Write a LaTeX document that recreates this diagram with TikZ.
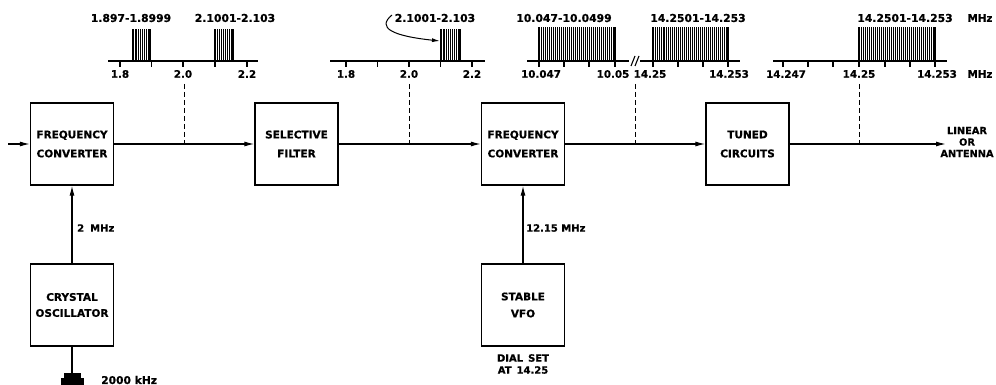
\documentclass[tikz,border=0pt]{standalone}
\usepackage{fontspec}
\setmainfont{DejaVu Sans}[BoldFeatures={FakeBold=0.6}]
\usetikzlibrary{arrows.meta}
\newcommand{\specband}[3]{%
  \pgfmathsetmacro{\bn}{int(round((#2-#1)/2.0))}%
  \foreach \i in {0,...,\bn}{\draw[line width=0.7pt] ({#1+\i*(#2-#1)/\bn},61) -- ({#1+\i*(#2-#1)/\bn},#3);}%
  \draw[line width=1.1pt] (#1,61) -- (#1,#3);
  \draw[line width=1.1pt] (#2,61) -- (#2,#3);
}
\begin{document}
\begin{tikzpicture}[x=1pt,y=-1pt,
  blk/.style={draw, line width=1.3pt, minimum width=83pt, minimum height=82pt, align=center, inner sep=0pt, font=\fontsize{10.5}{19}\selectfont\bfseries},
  sig/.style={line width=1.2pt, -{Latex[length=10pt,width=5pt]}},
  lbl/.style={inner sep=0pt, font=\fontsize{10}{11}\selectfont\bfseries},
  num/.style={inner sep=0pt, font=\fontsize{10.3}{11}\selectfont\bfseries},
  top/.style={inner sep=0pt, font=\fontsize{10.8}{11}\selectfont\bfseries},
  ax/.style={line width=1.2pt},
  dsh/.style={line width=1pt, dash pattern=on 5pt off 3pt}]
\useasboundingbox (0,0) rectangle (996,385);

% blocks
\node[blk] (fc1) at (72,144) {FREQUENCY\\CONVERTER};
\node[blk] (sf) at (296.5,144) {SELECTIVE\\FILTER};
\node[blk] (fc2) at (523,144) {FREQUENCY\\CONVERTER};
\node[blk] (tc) at (747.5,144) {TUNED\\CIRCUITS};
\node[blk, font=\fontsize{10.5}{16}\selectfont\bfseries] (co) at (72,305) {CRYSTAL\\OSCILLATOR};
\node[blk, font=\fontsize{10.5}{17}\selectfont\bfseries] (vfo) at (523,305) {STABLE\\VFO};

% crystal
\node[fill, minimum width=17pt, minimum height=5pt, inner sep=0pt] (xtal) at (72,375.5) {};
\fill (61,378) rectangle (84,386);

% connectors
\coordinate (in) at (8,144);
\coordinate (out) at (946,144);
\draw[sig] (in) -- (fc1);
\draw[sig] (fc1) -- (sf);
\draw[sig] (sf) -- (fc2);
\draw[sig] (fc2) -- (tc);
\draw[sig] (tc) -- (out);
\draw[sig] (co) -- (fc1);
\draw[sig] (vfo) -- (fc2);
\draw[line width=1.2pt] (co) -- (xtal);

% labels
\node[lbl, anchor=west] (l2m) at (77,228) {2\hspace{0.6em}MHz};
\node[lbl, anchor=west] (l12m) at (526,228) {12.15 MHz};
\node[lbl, align=center, font=\fontsize{10}{12}\selectfont\bfseries] (dial) at (523,364) {DIAL\hspace{0.5em}SET\\AT\hspace{0.5em}14.25};
\node[lbl, anchor=west, font=\fontsize{10.7}{11}\selectfont\bfseries] (l2k) at (101,380) {2000 kHz};
\node[lbl, align=center, font=\fontsize{9.8}{11.5}\selectfont\bfseries] (lin) at (967,142) {LINEAR\\OR\\ANTENNA};

% dashed taps
\foreach \x/\n in {184/a,409/b,635/c,859/d}{
  \coordinate (dt\n) at (\x,84);
  \coordinate (db\n) at (\x,144);
  \draw[dsh] (dt\n) -- (db\n);
}

% spectrum 1
\draw[ax] (108,61) -- (258,61);
\foreach \x in {120,151.5,183,215,247} \draw[ax] (\x,61) -- (\x,67);
\specband{133}{150}{29}
\specband{215}{233}{29}
\node[num] (s1a) at (120,74) {1.8};
\node[num] (s1b) at (183,74) {2.0};
\node[num] (s1c) at (247,74) {2.2};
\node[top] (t1a) at (131,18) {1.897-1.8999};
\node[top] (t1b) at (235,18) {2.1001-2.103};

% spectrum 2
\draw[ax] (330,61) -- (485,61);
\foreach \x in {346,377.5,409,440.5,472} \draw[ax] (\x,61) -- (\x,67);
\specband{441}{460}{29}
\node[num] (s2a) at (346,74) {1.8};
\node[num] (s2b) at (409,74) {2.0};
\node[num] (s2c) at (472,74) {2.2};
\node[top] (t2a) at (435,18) {2.1001-2.103};
\coordinate (ca) at (392,15);
\coordinate (cb) at (440,41);
\draw[line width=1pt, -{Latex[length=8pt,width=4pt]}] (ca) .. controls (376,28) and (393,36) .. (cb);

% spectrum 3
\draw[ax] (527,61) -- (629,61);
\draw[ax] (640,61) -- (740,61);
\draw[line width=1.1pt] (631,66) -- (635,56);
\draw[line width=1.1pt] (635,66) -- (639,56);
\foreach \x in {539,564,589,615,653,678,703,728} \draw[ax] (\x,61) -- (\x,67);
\specband{539}{615}{27}
\specband{653}{728}{27}
\node[num] (s3a) at (541,74) {10.047};
\node[num] (s3b) at (613,74) {10.05};
\node[num] (s3c) at (650,74) {14.25};
\node[num] (s3d) at (729,74) {14.253};
\node[top] (t3a) at (564,18) {10.047-10.0499};
\node[top] (t3b) at (698,18) {14.2501-14.253};

% spectrum 4
\draw[ax] (773,61) -- (947,61);
\foreach \x in {783,808,833,859,885,910,935} \draw[ax] (\x,61) -- (\x,67);
\specband{859}{935}{27}
\node[num] (s4a) at (786,74) {14.247};
\node[num] (s4b) at (859,74) {14.25};
\node[num] (s4c) at (937,74) {14.253};
\node[top] (t4a) at (905,18) {14.2501-14.253};
\node[num] (m1) at (980,18) {MHz};
\node[num] (m2) at (980,74) {MHz};
\end{tikzpicture}
\end{document}
